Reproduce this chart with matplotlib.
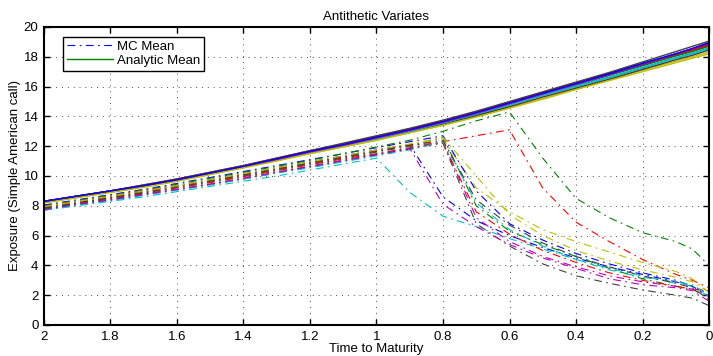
#!/usr/bin/env python3

import matplotlib
matplotlib.use("Agg")
import matplotlib.pyplot as plt

#################################################
### Data
#################################################

t = [2.0, 1.9, 1.8, 1.7, 1.6, 1.5, 1.4, 1.3, 1.2, 1.1, 1.0,
     0.9, 0.8, 0.7, 0.6, 0.5, 0.4, 0.3, 0.2, 0.1, 0.05, 0.0]

# Monte Carlo mean exposure, one list per path
mc_1 = [7.95, 8.3, 8.65, 9.0, 9.35, 9.75, 10.15, 10.55, 10.95, 11.35, 11.75, 12.1, 8.6, 7.0, 6.0, 5.2, 4.5, 3.9, 3.4, 2.9, 2.6, 1.9]
mc_2 = [7.9, 8.25, 8.55, 8.9, 9.25, 9.6, 10.0, 10.4, 10.8, 11.2, 11.6, 12.0, 12.6, 8.0, 6.3, 5.4, 4.6, 3.8, 3.1, 2.6, 2.4, 1.8]
mc_3 = [7.85, 8.2, 8.5, 8.85, 9.2, 9.55, 9.95, 10.35, 10.75, 11.15, 11.5, 11.9, 12.3, 12.7, 13.1, 9.2, 6.9, 5.6, 4.4, 3.4, 3.0, 2.5]
mc_4 = [7.7, 8.0, 8.3, 8.6, 8.95, 9.3, 9.65, 10.0, 10.4, 10.8, 11.2, 8.9, 7.3, 6.6, 5.8, 5.1, 4.4, 3.8, 3.3, 2.8, 2.6, 1.9]
mc_5 = [7.75, 8.1, 8.4, 8.75, 9.1, 9.45, 9.8, 10.2, 10.6, 11.0, 11.4, 11.8, 12.3, 7.2, 5.6, 4.6, 3.9, 3.3, 2.9, 2.6, 2.4, 2.0]
mc_6 = [7.9, 8.25, 8.6, 8.95, 9.3, 9.7, 10.1, 10.5, 10.9, 11.3, 11.7, 12.1, 12.5, 9.2, 7.6, 6.4, 5.6, 4.9, 4.2, 3.6, 3.1, 2.2]
mc_7 = [7.8, 8.15, 8.45, 8.8, 9.1, 9.45, 9.85, 10.25, 10.65, 11.05, 11.45, 11.85, 12.2, 6.8, 5.3, 4.1, 3.3, 2.8, 2.35, 2.0, 1.8, 1.3]
mc_8 = [8.05, 8.4, 8.75, 9.1, 9.5, 9.9, 10.3, 10.7, 11.1, 11.5, 11.9, 12.3, 12.7, 9.0, 6.8, 5.7, 4.8, 4.1, 3.5, 3.0, 2.6, 2.1]
mc_9 = [8.0, 8.35, 8.7, 9.05, 9.45, 9.85, 10.25, 10.65, 11.05, 11.5, 11.95, 12.4, 13.0, 13.7, 14.3, 11.2, 8.5, 7.2, 6.2, 5.6, 5.1, 4.0]
mc_10 = [7.95, 8.3, 8.65, 9.0, 9.35, 9.7, 10.1, 10.5, 10.9, 11.3, 11.7, 12.1, 12.2, 7.6, 6.1, 5.0, 4.2, 3.5, 3.0, 2.6, 2.4, 2.3]
mc_11 = [7.7, 8.05, 8.35, 8.7, 9.05, 9.4, 9.8, 10.2, 10.55, 10.95, 11.35, 11.75, 12.3, 8.2, 6.4, 5.3, 4.4, 3.7, 3.2, 2.9, 2.7, 2.0]
mc_12 = [7.75, 8.1, 8.4, 8.75, 9.1, 9.45, 9.85, 10.25, 10.65, 11.05, 11.45, 11.85, 8.1, 6.6, 5.4, 4.5, 3.8, 3.1, 2.7, 2.5, 2.3, 1.6]
mc_13 = [7.95, 8.3, 8.65, 9.0, 9.35, 9.75, 10.15, 10.55, 10.95, 11.35, 11.75, 12.15, 12.6, 10.0, 7.4, 6.0, 5.0, 4.3, 3.7, 3.2, 2.9, 2.2]
mc_14 = [7.85, 8.2, 8.55, 8.9, 9.25, 9.65, 10.05, 10.45, 10.85, 11.25, 11.65, 12.05, 12.4, 8.4, 6.7, 5.5, 4.6, 3.9, 3.3, 2.8, 2.5, 1.7]

# Analytic mean exposure, one list per path
an_1 = [8.25, 8.6, 8.95, 9.3, 9.7, 10.15, 10.6, 11.1, 11.6, 12.05, 12.5, 13.0, 13.55, 14.15, 14.8, 15.45, 16.1, 16.75, 17.4, 18.05, 18.35, 18.7]
an_2 = [8.3, 8.65, 9.0, 9.35, 9.75, 10.2, 10.65, 11.15, 11.65, 12.1, 12.6, 13.1, 13.65, 14.25, 14.9, 15.55, 16.2, 16.85, 17.5, 18.15, 18.45, 18.8]
an_3 = [8.25, 8.6, 8.95, 9.3, 9.7, 10.15, 10.6, 11.05, 11.55, 12.0, 12.45, 12.95, 13.5, 14.1, 14.75, 15.4, 16.0, 16.6, 17.25, 17.9, 18.2, 18.55]
an_4 = [8.25, 8.6, 8.95, 9.3, 9.7, 10.15, 10.6, 11.1, 11.6, 12.05, 12.55, 13.05, 13.6, 14.2, 14.85, 15.5, 16.15, 16.8, 17.45, 18.1, 18.45, 18.85]
an_5 = [8.2, 8.55, 8.9, 9.25, 9.65, 10.1, 10.55, 11.05, 11.5, 11.95, 12.4, 12.9, 13.4, 14.0, 14.6, 15.2, 15.85, 16.45, 17.1, 17.7, 18.0, 18.3]
an_6 = [8.25, 8.6, 8.95, 9.3, 9.7, 10.15, 10.6, 11.1, 11.6, 12.05, 12.5, 13.0, 13.5, 14.05, 14.65, 15.3, 15.9, 16.5, 17.15, 17.8, 18.1, 18.45]
an_7 = [8.3, 8.65, 9.0, 9.35, 9.75, 10.2, 10.65, 11.15, 11.65, 12.15, 12.65, 13.15, 13.7, 14.3, 14.95, 15.6, 16.25, 16.9, 17.55, 18.2, 18.55, 18.9]
an_8 = [8.3, 8.65, 9.0, 9.35, 9.75, 10.2, 10.65, 11.1, 11.6, 12.1, 12.55, 13.05, 13.6, 14.2, 14.85, 15.5, 16.15, 16.8, 17.45, 18.1, 18.4, 18.75]
an_9 = [8.3, 8.65, 9.0, 9.4, 9.8, 10.25, 10.7, 11.2, 11.7, 12.15, 12.65, 13.15, 13.7, 14.3, 14.95, 15.6, 16.25, 16.85, 17.5, 18.15, 18.45, 18.8]
an_10 = [8.25, 8.6, 8.95, 9.3, 9.7, 10.15, 10.6, 11.1, 11.55, 12.0, 12.5, 13.0, 13.55, 14.15, 14.8, 15.45, 16.05, 16.65, 17.3, 17.95, 18.25, 18.6]
an_11 = [8.25, 8.6, 8.95, 9.3, 9.7, 10.15, 10.6, 11.1, 11.6, 12.05, 12.55, 13.05, 13.6, 14.2, 14.85, 15.5, 16.15, 16.8, 17.5, 18.2, 18.55, 18.95]
an_12 = [8.2, 8.55, 8.9, 9.25, 9.65, 10.1, 10.55, 11.0, 11.5, 11.95, 12.4, 12.9, 13.4, 13.95, 14.55, 15.15, 15.8, 16.4, 17.0, 17.6, 17.9, 18.2]
an_13 = [8.3, 8.65, 9.0, 9.4, 9.8, 10.25, 10.7, 11.2, 11.7, 12.2, 12.7, 13.2, 13.75, 14.35, 15.0, 15.65, 16.3, 16.95, 17.65, 18.35, 18.7, 19.05]
an_14 = [8.3, 8.65, 9.0, 9.35, 9.75, 10.2, 10.65, 11.15, 11.65, 12.1, 12.6, 13.1, 13.65, 14.25, 14.9, 15.55, 16.2, 16.85, 17.55, 18.2, 18.55, 18.95]

mc_paths = [mc_1, mc_2, mc_3, mc_4, mc_5, mc_6, mc_7,
            mc_8, mc_9, mc_10, mc_11, mc_12, mc_13, mc_14]
an_paths = [an_1, an_2, an_3, an_4, an_5, an_6, an_7,
            an_8, an_9, an_10, an_11, an_12, an_13, an_14]

x_ticks = [2, 1.8, 1.6, 1.4, 1.2, 1, 0.8, 0.6, 0.4, 0.2, 0]
y_ticks = [0, 2, 4, 6, 8, 10, 12, 14, 16, 18, 20]

# old MATLAB colour order: b g r c m y k
matlab_colors = [(0, 0, 1), (0, 0.5, 0), (1, 0, 0), (0, 0.75, 0.75),
                 (0.75, 0, 0.75), (0.75, 0.75, 0), (0.25, 0.25, 0.25)]

#################################################
### Plot
#################################################

plt.rcParams['font.family'] = ['Liberation Sans', 'DejaVu Sans']
plt.rcParams['font.size'] = 9.5

fig = plt.figure(figsize=(7.13, 3.56), dpi=100)
ax = fig.add_axes([0.0617, 0.0871, 0.9327, 0.8371])

mc_handle = None
an_handle = None
for i, path in enumerate(mc_paths):
    c = matlab_colors[i % 7]
    line, = ax.plot(t, path, color=c, linewidth=0.8,
                    linestyle=(0, (7, 4, 1.5, 4)))
    if mc_handle is None:
        mc_handle = line

for i, path in enumerate(an_paths):
    c = matlab_colors[(i + 1) % 7]
    line, = ax.plot(t, path, color=c, linewidth=1.0, linestyle='-')
    if an_handle is None:
        an_handle = line

ax.set_xlim(2, 0)
ax.set_ylim(0, 20)
ax.set_xticks(x_ticks)
ax.set_xticklabels([f"{v:g}" for v in x_ticks])
ax.set_yticks(y_ticks)

ax.grid(True, linestyle=(0, (1, 5)), color='0.3', linewidth=0.7)
ax.tick_params(direction='in', top=True, right=True, length=4, width=1,
               labelsize=9.5, pad=4)
for spine in ax.spines.values():
    spine.set_linewidth(1.5)

ax.set_title('Antithetic Variates', fontsize=9.5, pad=5)
ax.set_xlabel('Time to Maturity', fontsize=9.5, labelpad=0)
ax.set_ylabel('Exposure (Simple American call)', fontsize=9.5, labelpad=2)

leg = ax.legend([mc_handle, an_handle], ['MC Mean', 'Analytic Mean'],
                loc='upper left', bbox_to_anchor=(0.028, 0.967),
                fancybox=False, framealpha=1, edgecolor='black',
                handlelength=3.5, handletextpad=0.3, borderpad=0.3,
                labelspacing=0.1, fontsize=9.5, borderaxespad=0)
leg.get_frame().set_linewidth(1.0)

fig.savefig('out.png', dpi=100)
